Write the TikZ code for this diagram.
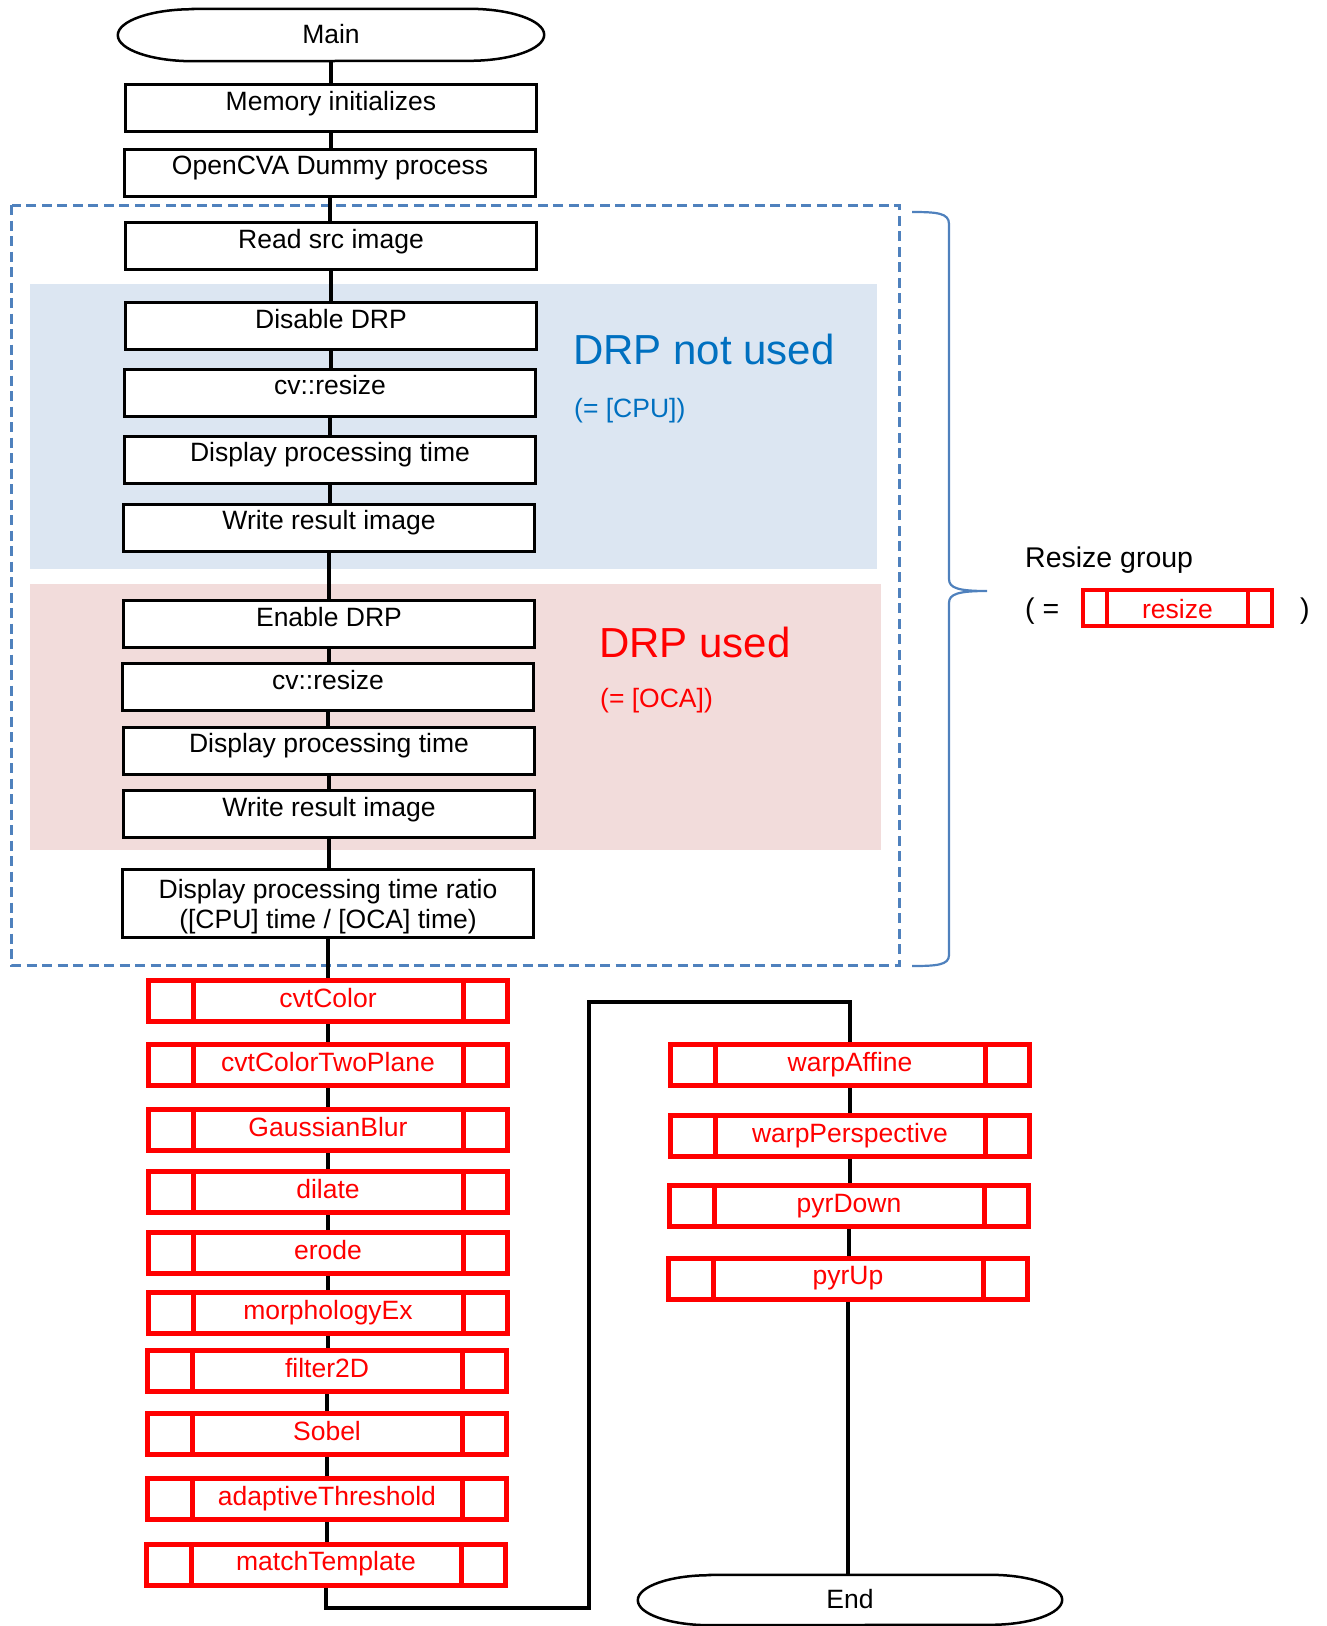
\documentclass[tikz,border=0pt]{standalone}
\usepackage{fontspec}
\setmainfont{Liberation Sans}
\usetikzlibrary{calc}
\definecolor{dashblue}{HTML}{4F81BD}
\definecolor{regblue}{HTML}{DCE6F2}
\definecolor{regpink}{HTML}{F2DCDB}
\definecolor{txtblue}{HTML}{0070C0}
\definecolor{pdred}{HTML}{FF0000}
\newcommand\bxfont{\fontsize{26.5}{30.5}\selectfont}
\newcommand\drpfont{\fontsize{42}{48}\selectfont}
\newcommand\grpfont{\fontsize{28.5}{33}\selectfont}
\begin{document}
\begin{tikzpicture}[x=1pt,y=-1pt]
\tikzset{
  conn/.style={line width=4.5pt, draw=black},
  blackbox/.style={draw=black, line width=3pt, fill=white, inner sep=0pt,
    minimum width=411pt, text height=25.5pt, text depth=21.5pt, font=\bxfont},
  term/.style={inner sep=0pt, minimum width=426pt, font=\bxfont},
  termline/.style={draw=black, line width=2.5pt},
  predef inset/.store in=\pdinset, predef inset=44.5pt,
  predef/.style={draw=pdred, line width=5pt, fill=white, inner sep=0pt,
    minimum width=359pt, text height=26.5pt, text depth=14.5pt,
    font=\bxfont, text=pdred,
    path picture={\draw[pdred]
      ([xshift=\pdinset]path picture bounding box.north west) --
      ([xshift=\pdinset]path picture bounding box.south west)
      ([xshift=-\pdinset]path picture bounding box.north east) --
      ([xshift=-\pdinset]path picture bounding box.south east);}},
  grouplbl/.style={anchor=base west, inner sep=0pt},
}
\useasboundingbox (0,0) rectangle (1327,1626);

% background regions
\fill[regblue] (30,284) rectangle (877,569);
\fill[regpink] (30,584) rectangle (881,850);
\draw[dashblue, line width=3pt, dash pattern=on 10pt off 5.5pt] (11.5,205) rectangle (899,965);

% brace
\draw[dashblue, line width=2.2pt]
  (912,212) .. controls (937,212) and (949,213) .. (949,224)
  -- (949,579) .. controls (949,588) and (958,591) .. (987,591)
  .. controls (958,591) and (949,594) .. (949,603)
  -- (949,955) .. controls (949,965) and (937,966) .. (912,966);

% texts of regions
\node[grouplbl, text=txtblue, font=\drpfont] (lblcpu) at (573,364) {DRP not used};
\node[grouplbl, text=txtblue, font=\bxfont] (lblcpu2) at (574,417) {(= [CPU])};
\node[grouplbl, text=pdred, font=\drpfont] (lbloca) at (599,657) {DRP used};
\node[grouplbl, text=pdred, font=\bxfont] (lbloca2) at (600,707) {(= [OCA])};

% legend
\node[grouplbl, font=\grpfont] (grp) at (1025,567) {Resize group};
\node[grouplbl, font=\grpfont] (grpl) at (1025,618) {( =};
\node[grouplbl, font=\grpfont] (grpr) at (1300,618) {)};
\node[predef, predef inset=24pt, line width=4pt, minimum width=189pt,
  text height=28pt, text depth=8pt] (lgd) at (1177.5,608) {resize};

% terminators
\node[term, text height=34pt, text depth=18pt] (main) at (331,35) {Main};
\draw[termline] ([xshift=75pt]main.north west) -- ([xshift=-75pt]main.north east)
  arc[start angle=90, end angle=-90, x radius=75pt, y radius=26pt]
  -- ([xshift=75pt]main.south west)
  arc[start angle=270, end angle=90, x radius=75pt, y radius=26pt] -- cycle;
\node[term, minimum width=424pt, text height=33pt, text depth=17pt] (endn) at (850,1600) {End};
\draw[termline] ([xshift=72pt]endn.north west) -- ([xshift=-72pt]endn.north east)
  arc[start angle=90, end angle=-90, x radius=72pt, y radius=25pt]
  -- ([xshift=72pt]endn.south west)
  arc[start angle=270, end angle=90, x radius=72pt, y radius=25pt] -- cycle;

% black process boxes
\node[blackbox] (mem) at (331,108) {Memory initializes};
\node[blackbox] (ocva) at (330,172.5) {OpenCVA Dummy process};
\node[blackbox] (read) at (331,246) {Read src image};
\node[blackbox] (dis) at (331,326) {Disable DRP};
\node[blackbox] (res1) at (330,392.5) {cv::resize};
\node[blackbox] (dpt1) at (330,459.5) {Display processing time};
\node[blackbox] (wri1) at (329,527.5) {Write result image};
\node[blackbox] (ena) at (329,624) {Enable DRP};
\node[blackbox] (res2) at (328,687) {cv::resize};
\node[blackbox] (dpt2) at (329,750.5) {Display processing time};
\node[blackbox] (wri2) at (329,814) {Write result image};
\node[blackbox, text height=28.5pt, text depth=39.5pt] (ratio) at (328,903.5)
  {\begin{tabular}[t]{@{}c@{}}Display processing time ratio\\([CPU] time / [OCA] time)\end{tabular}};

% red predefined processes, left column
\node[predef] (p1) at (328,1001) {cvtColor};
\node[predef] (p2) at (328,1065) {cvtColorTwoPlane};
\node[predef] (p3) at (328,1130) {GaussianBlur};
\node[predef] (p4) at (328,1192) {dilate};
\node[predef] (p5) at (328,1253) {erode};
\node[predef] (p6) at (328,1313) {morphologyEx};
\node[predef] (p7) at (327,1371) {filter2D};
\node[predef] (p8) at (327,1434) {Sobel};
\node[predef] (p9) at (327,1499) {adaptiveThreshold};
\node[predef] (p10) at (326,1564.5) {matchTemplate};

% right column
\node[predef] (q1) at (850,1065) {warpAffine};
\node[predef] (q2) at (850,1136) {warpPerspective};
\node[predef] (q3) at (849,1206) {pyrDown};
\node[predef] (q4) at (848,1278.5) {pyrUp};

% connectors
\draw[conn] (main.south) -- (main.south |- mem.north);
\foreach \a/\b in {mem/ocva,ocva/read,read/dis,dis/res1,res1/dpt1,dpt1/wri1,wri1/ena,
  ena/res2,res2/dpt2,dpt2/wri2,wri2/ratio,ratio/p1,p1/p2,p2/p3,p3/p4,p4/p5,p5/p6,p6/p7,
  p7/p8,p8/p9,p9/p10,q1/q2,q2/q3,q3/q4}{
  \draw[conn] (\a.south) -- (\a.south |- \b.north);
}
\coordinate (c1) at (589,1608);
\coordinate (c2) at (589,1002);
\draw[conn] (p10.south) |- (c1) -- (c2) -| (q1.north);
\draw[conn] (q4.south) -- (q4.south |- endn.north);
\end{tikzpicture}
\end{document}
